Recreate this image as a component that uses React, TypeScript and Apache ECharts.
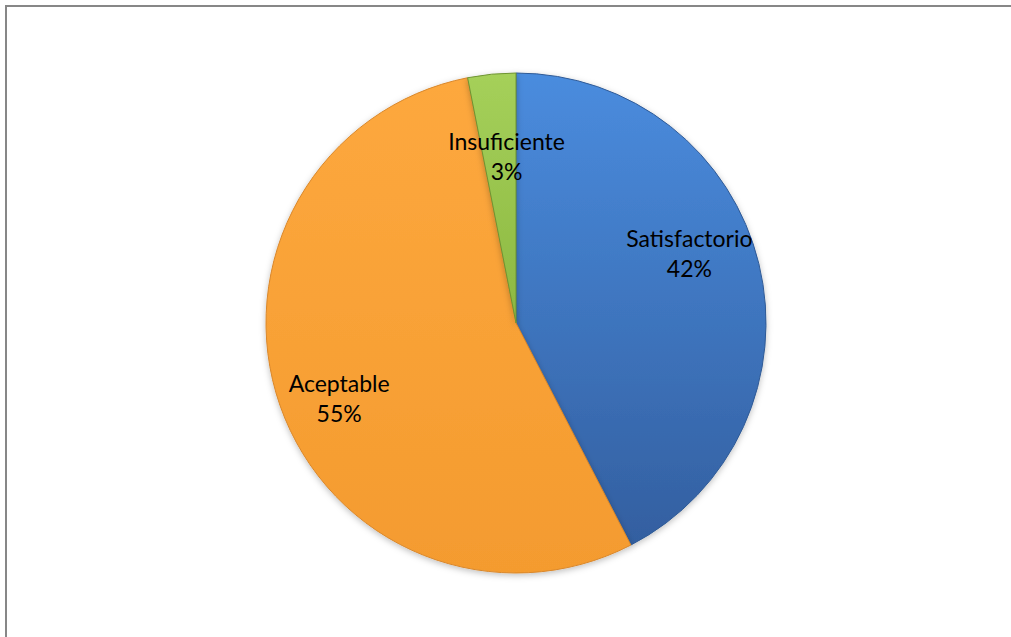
import React, { useEffect, useRef } from "react";
import * as echarts from "echarts";

const categories = ["Satisfactorio", "Aceptable", "Insuficiente"];
const values = [42.4, 54.5, 3.1];

const colorsTop = ["#4A8CDE", "#FDA83E", "#A5D05A"];
const colorsBottom = ["#335FA0", "#F49B2F", "#8CB841"];
const borderColors = ["#2F5A96", "#D9872A", "#6F9433"];
const labelShift = [
  { dx: 49, dy: -40 },
  { dx: -56, dy: 33 },
  { dx: 3, dy: -40 },
];

export default function App() {
  const ref = useRef<HTMLDivElement>(null);
  useEffect(() => {
    document.body.style.margin = "0";
    const chart = echarts.init(ref.current!, null, { renderer: "svg" });
    chart.setOption({
      animation: false,
      backgroundColor: "#ffffff",
      graphic: [
        {
          type: "polyline",
          shape: { points: [[6, 700], [6, 6], [1100, 6]] },
          style: { fill: "none", stroke: "#878787", lineWidth: 2 },
          silent: true,
        },
      ],
      series: [
        {
          type: "pie",
          center: [516, 323],
          radius: [0, 250],
          startAngle: 90,
          clockwise: true,
          silent: true,
          data: categories.map((name, i) => ({
            name,
            value: values[i],
            itemStyle: {
              color: new echarts.graphic.LinearGradient(0, 0, 0, 1, [
                { offset: 0, color: colorsTop[i] },
                { offset: 1, color: colorsBottom[i] },
              ]),
              borderColor: borderColors[i],
              borderWidth: 1,
              shadowBlur: 6,
              shadowColor: "rgba(0,0,0,0.25)",
              shadowOffsetY: 2,
            },
          })),
          label: {
            show: true,
            position: "inside",
            color: "#000000",
            fontFamily: "Lato",
            fontSize: 23,
            lineHeight: 30,
            align: "center",
            formatter: (p: any) => `${p.name}\n${Math.round(p.value)}%`,
          },
          labelLine: { show: false },
          labelLayout: (p: any) => labelShift[p.dataIndex],
        },
      ],
    });
    return () => chart.dispose();
  }, []);
  return <div ref={ref} style={{ width: 1011, height: 637 }} />;
}
